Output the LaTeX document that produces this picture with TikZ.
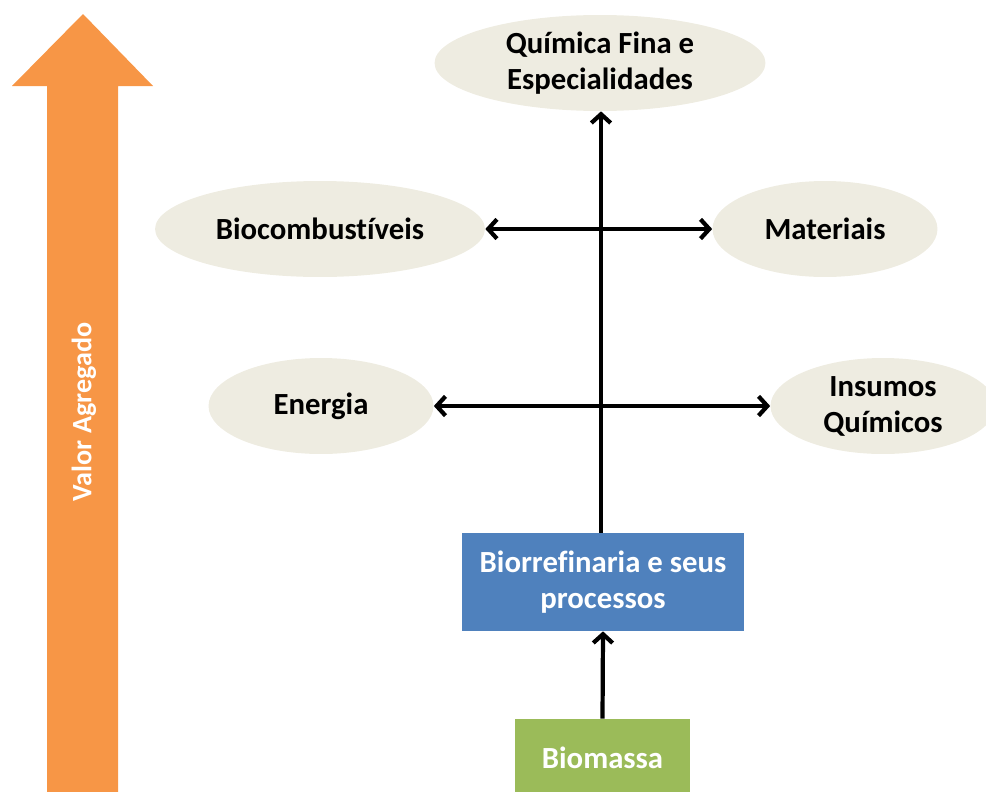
\documentclass[tikz,border=0pt]{standalone}
\usepackage{fontspec}
\setmainfont{Carlito}[Ligatures=NoCommon]
\usetikzlibrary{arrows.meta,positioning,shapes.geometric}

\definecolor{tanfill}{HTML}{EEECE1}
\definecolor{bluebox}{HTML}{4F81BD}
\definecolor{greenbox}{HTML}{9BBB59}
\definecolor{orangearrow}{HTML}{F79646}

\begin{document}
\begin{tikzpicture}[x=0.02cm, y=-0.02cm, >={Straight Barb[length=5pt,width=11pt]},
  product/.style={ellipse, fill=tanfill, inner sep=0pt, minimum height=1.92cm,
    align=center, font=\fontsize{17.5}{20.5}\selectfont\bfseries},
  stage/.style={rectangle, inner sep=0pt, align=center, text=white,
    font=\fontsize{17.5}{20.5}\selectfont\bfseries},
  flow/.style={line width=2.4pt}]
  %% Frame of the page
  \useasboundingbox (0,0) rectangle (986,791);
  \clip (0,0) rectangle (986,791);

  %% Value axis on the left
  \fill[orangearrow] (83,14) -- (153,86) -- (118,86) -- (118,800)
    -- (47,800) -- (47,86) -- (12,86) -- cycle;
  \node[rotate=90, text=white, font=\fontsize{16}{20}\selectfont\bfseries]
    (valor) at (84,412) {Valor Agregado};

  %% Products
  \node[product, minimum width=6.62cm] (fina) at (600,63) {Química Fina e\\Especialidades};
  \node[product, minimum width=6.6cm]  (biocomb) at (320,229) {Biocombustíveis};
  \node[product, minimum width=4.5cm]  (mater) at (825,229) {Materiais};
  \node[product, minimum width=4.5cm]  (energ) at (321,406) {Energia};
  \node[product, minimum width=4.5cm]  (insum) at (883,406) {Insumos\\Químicos};

  %% Process chain
  \node[stage, fill=bluebox, minimum width=5.66cm, minimum height=1.96cm]
    (biorref) at (603,582) {Biorrefinaria e seus\\processos};
  \node[stage, fill=greenbox, minimum width=3.5cm, minimum height=1.56cm]
    (biomassa) at (602.5,758) {Biomassa};

  %% Connectors
  \draw[flow, <->] (biocomb.east) -- (mater.west);
  \draw[flow, <->] (energ.east) -- (insum.west);
  \draw[flow, ->] (biorref.north -| 601,0) -- (fina.south -| 601,0);
  \draw[flow, ->] (biomassa.north) -- (biorref.south);
\end{tikzpicture}
\end{document}
